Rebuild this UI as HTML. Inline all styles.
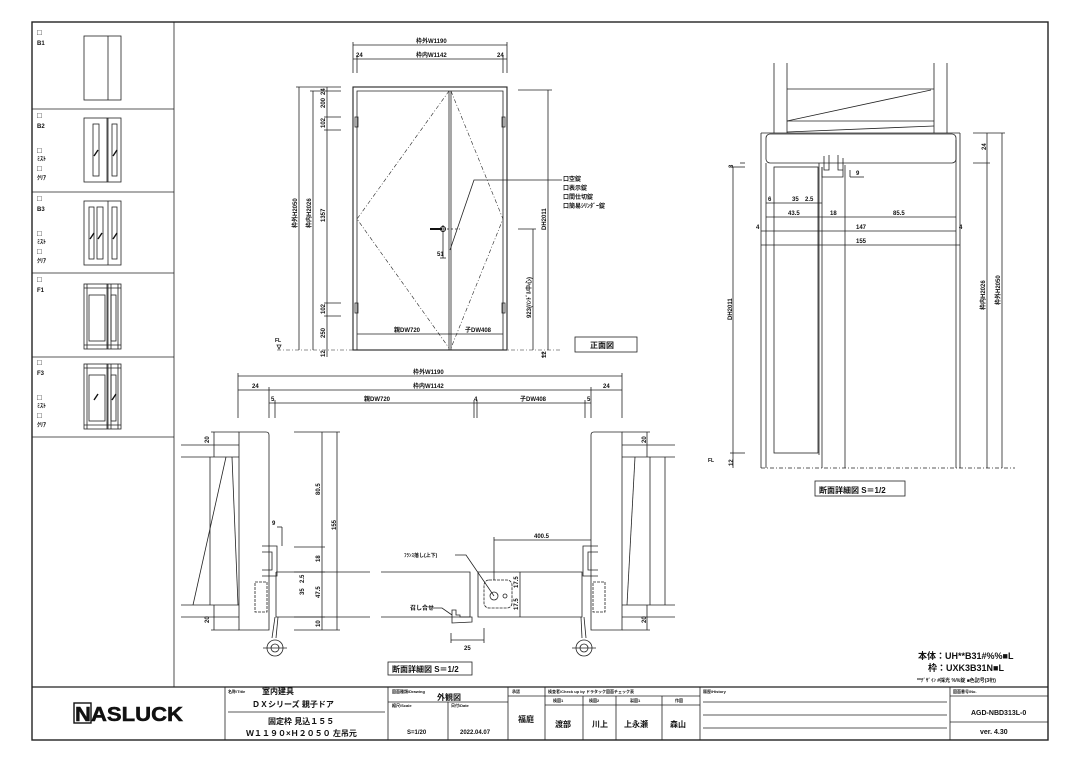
<!DOCTYPE html>
<html><head><meta charset="utf-8"><style>
html,body{margin:0;padding:0;background:#fff;}
svg{display:block;}
text{font-family:"Liberation Sans","Noto Sans CJK JP",sans-serif;fill:#111;}
.s{font-size:6px;font-weight:bold;}
.m{font-size:8px;font-weight:bold;}
.b{font-size:8px;font-weight:bold;}
</style></head><body>
<svg width="1080" height="764" viewBox="0 0 1080 764" xmlns="http://www.w3.org/2000/svg">
<g fill="none" stroke="#222" stroke-width="0.8">
<rect x="32" y="22" width="1016" height="718" stroke-width="1.4"/>
<line x1="174" y1="22" x2="174" y2="687"/>
<line x1="32" y1="109" x2="174" y2="109"/>
<line x1="32" y1="192" x2="174" y2="192"/>
<line x1="32" y1="273" x2="174" y2="273"/>
<line x1="32" y1="357" x2="174" y2="357"/>
<line x1="32" y1="437" x2="174" y2="437"/>
<rect x="84" y="36" width="37" height="64"/><line x1="108" y1="36" x2="108" y2="100"/>
<rect x="84" y="118" width="37" height="64"/><line x1="107" y1="118" x2="107" y2="182"/><line x1="108" y1="118" x2="108" y2="182"/>
<rect x="93" y="124" width="6" height="52"/><rect x="112" y="124" width="5" height="52"/>
<rect x="84" y="201" width="37" height="64"/><line x1="108" y1="201" x2="108" y2="265"/>
<rect x="89" y="207" width="5" height="52"/><rect x="97" y="207" width="6" height="52"/><rect x="112" y="207" width="5" height="52"/>
<rect x="84" y="284" width="37" height="65"/><line x1="107" y1="284" x2="107" y2="349"/><line x1="108" y1="284" x2="108" y2="349"/>
<line x1="84" y1="288" x2="121" y2="288"/><line x1="84" y1="345" x2="121" y2="345"/>
<line x1="87" y1="284" x2="87" y2="349"/><line x1="118" y1="284" x2="118" y2="349"/><line x1="111" y1="284" x2="111" y2="349"/>
<rect x="89" y="295" width="16" height="46"/><rect x="111" y="295" width="5" height="46"/>
<rect x="84" y="364" width="37" height="65"/><line x1="107" y1="364" x2="107" y2="429"/><line x1="108" y1="364" x2="108" y2="429"/>
<line x1="84" y1="368" x2="121" y2="368"/><line x1="84" y1="425" x2="121" y2="425"/>
<line x1="87" y1="364" x2="87" y2="429"/><line x1="118" y1="364" x2="118" y2="429"/><line x1="111" y1="364" x2="111" y2="429"/>
<rect x="89" y="375" width="16" height="46"/><rect x="111" y="375" width="5" height="46"/>
</g>
<g stroke="#111" stroke-width="1.4">
<line x1="94" y1="156" x2="98" y2="150"/><line x1="113" y1="156" x2="117" y2="150"/>
<line x1="90" y1="239" x2="94" y2="233"/><line x1="98" y1="239" x2="102" y2="233"/><line x1="113" y1="239" x2="117" y2="233"/>
<line x1="94" y1="400" x2="98" y2="394"/><line x1="112" y1="400" x2="116" y2="394"/>
</g>
<g class="s">
<text x="37" y="35" class="b">□</text><text x="37" y="45">B1</text>
<text x="37" y="118" class="b">□</text><text x="37" y="128">B2</text><text x="37" y="153" class="b">□</text><text x="37" y="161">ﾐｽﾄ</text><text x="37" y="171" class="b">□</text><text x="37" y="180">ｸﾘｱ</text>
<text x="37" y="201" class="b">□</text><text x="37" y="211">B3</text><text x="37" y="236" class="b">□</text><text x="37" y="244">ﾐｽﾄ</text><text x="37" y="254" class="b">□</text><text x="37" y="263">ｸﾘｱ</text>
<text x="37" y="282" class="b">□</text><text x="37" y="292">F1</text>
<text x="37" y="365" class="b">□</text><text x="37" y="375">F3</text><text x="37" y="400" class="b">□</text><text x="37" y="408">ﾐｽﾄ</text><text x="37" y="418" class="b">□</text><text x="37" y="427">ｸﾘｱ</text>
</g>

<g fill="none" stroke="#222" stroke-width="0.8">
<rect x="353" y="87" width="154" height="263" stroke-width="1.1"/>
<path d="M357 350 V91 H503 V350" />
<line x1="449" y1="91" x2="449" y2="350"/><line x1="451" y1="91" x2="451" y2="350"/>
<g stroke-dasharray="4,2,1,2" stroke-width="0.6">
<path d="M449 91 L357 219 L449 348"/><path d="M451 91 L503 219 L451 348"/>
<line x1="277" y1="350" x2="560" y2="350"/>
</g>
<rect x="355" y="117" width="3" height="10"/><rect x="355" y="303" width="3" height="10"/>
<rect x="502" y="117" width="3" height="10"/><rect x="502" y="303" width="3" height="10"/>
<line x1="353" y1="45" x2="507" y2="45"/><line x1="353" y1="59" x2="507" y2="59"/>
<line x1="353" y1="42" x2="353" y2="73"/><line x1="507" y1="42" x2="507" y2="73"/><line x1="357" y1="55" x2="357" y2="73"/><line x1="503" y1="55" x2="503" y2="73"/>
<line x1="299" y1="87" x2="299" y2="350"/><line x1="313" y1="91" x2="313" y2="350"/><line x1="327" y1="87" x2="327" y2="357"/>
<line x1="296" y1="87" x2="341" y2="87"/><line x1="310" y1="91" x2="341" y2="91"/>
<line x1="324" y1="117" x2="341" y2="117"/><line x1="324" y1="130" x2="341" y2="130"/>
<line x1="324" y1="303" x2="341" y2="303"/><line x1="324" y1="316" x2="341" y2="316"/>
<line x1="357" y1="334" x2="503" y2="334"/>
<line x1="518" y1="90" x2="552" y2="90"/><line x1="548" y1="90" x2="548" y2="350"/>
<line x1="518" y1="229" x2="536" y2="229"/><line x1="533" y1="229" x2="533" y2="350"/>
<line x1="543" y1="352" x2="543" y2="358"/>
<line x1="443" y1="229" x2="460" y2="229" stroke-dasharray="2,2"/>
<line x1="443" y1="225" x2="443" y2="258"/><line x1="440" y1="258" x2="446" y2="258"/>
<path d="M450 250 L474 180 H562"/>
<rect x="575" y="337" width="62" height="15"/>
<path d="M277 345 l2 4 l2 -4 z"/>
</g>
<path d="M430 229 H442" stroke="#111" stroke-width="2"/>
<circle cx="443" cy="229" r="2.5" fill="none" stroke="#111"/>
<g class="s">
<text x="416" y="43">枠外W1190</text><text x="356" y="57">24</text><text x="416" y="57">枠内W1142</text><text x="497" y="57">24</text>
<text x="394" y="332">親DW720</text><text x="465" y="332">子DW408</text>
<text x="437" y="256">51</text>
<text x="563" y="181">口空錠</text><text x="563" y="190">口表示錠</text><text x="563" y="199">口間仕切錠</text><text x="563" y="208">口簡易ｼﾘﾝﾀﾞｰ錠</text>
<g transform="rotate(-90)">
<text x="-228" y="297">枠外H2050</text><text x="-228" y="311">枠内H2026</text>
<text x="-95" y="325">24</text><text x="-108" y="325">200</text><text x="-128" y="325">102</text><text x="-222" y="325">1357</text><text x="-314" y="325">102</text><text x="-338" y="325">250</text><text x="-357" y="325">12</text>
<text x="-230" y="546">DH2011</text><text x="-318" y="531">923(ﾊﾝﾄﾞﾙ中心)</text><text x="-358" y="546">12</text>
</g>
<text x="275" y="342" style="font-size:5px">FL</text>
</g>
<text x="590" y="348" class="m">正面図</text>

<g fill="none" stroke="#222" stroke-width="0.8">
<line x1="774" y1="63" x2="774" y2="133"/><line x1="787" y1="63" x2="787" y2="133"/><line x1="934" y1="63" x2="934" y2="133"/><line x1="947" y1="63" x2="947" y2="133"/>
<line x1="787" y1="89" x2="934" y2="89"/><line x1="787" y1="121" x2="934" y2="121"/><line x1="787" y1="121" x2="931" y2="90"/><line x1="787" y1="132" x2="934" y2="126"/>
<line x1="761" y1="133" x2="960" y2="133"/>
<rect x="766" y="134" width="190" height="29" rx="4"/>
<line x1="761" y1="133" x2="761" y2="468"/><line x1="766" y1="163" x2="766" y2="468"/>
<line x1="956" y1="140" x2="956" y2="468"/><line x1="960" y1="133" x2="960" y2="468"/>
<line x1="822" y1="167" x2="822" y2="468"/><line x1="845" y1="165" x2="845" y2="468"/><line x1="819" y1="163" x2="819" y2="455"/>
<rect x="774" y="167" width="44" height="286"/>
<path d="M822 167 V177 H843 V158 M824 156 V170 H829 V155 M838 155 V170 H843"/>
<line x1="761" y1="468" x2="1015" y2="468" stroke-dasharray="4,2,1,2"/>
<line x1="766" y1="203" x2="822" y2="203"/><line x1="766" y1="217" x2="956" y2="217"/><line x1="761" y1="231" x2="956" y2="231"/><line x1="761" y1="245" x2="960" y2="245"/>
<line x1="733" y1="167" x2="733" y2="468"/><line x1="730" y1="167" x2="745" y2="167"/><line x1="730" y1="453" x2="745" y2="453"/>
<line x1="740" y1="163" x2="745" y2="163"/>
<line x1="987" y1="133" x2="987" y2="468"/><line x1="1002" y1="133" x2="1002" y2="468"/><line x1="973" y1="133" x2="1005" y2="133"/><line x1="973" y1="163" x2="990" y2="163"/>
<line x1="850" y1="177" x2="864" y2="177"/><line x1="850" y1="170" x2="850" y2="177"/>
<rect x="815" y="481" width="90" height="15"/>
</g>
<g class="s">
<text x="768" y="201">6</text><text x="792" y="201">35</text><text x="805" y="201">2.5</text>
<text x="788" y="215">43.5</text><text x="830" y="215">18</text><text x="893" y="215">85.5</text>
<text x="756" y="229">4</text><text x="856" y="229">147</text><text x="959" y="229">4</text>
<text x="856" y="243">155</text><text x="856" y="175">9</text>
<g transform="rotate(-90)">
<text x="-168" y="733">3</text><text x="-150" y="986">24</text><text x="-320" y="732">DH2011</text><text x="-310" y="985">枠内H2026</text><text x="-305" y="1000">枠外H2050</text><text x="-466" y="733">12</text>
</g>
<text x="708" y="462" style="font-size:5px">FL</text>
</g>
<text x="819" y="493" class="m">断面詳細図 S＝1/2</text>

<g fill="none" stroke="#222" stroke-width="0.8">
<line x1="238" y1="376" x2="622" y2="376"/><line x1="238" y1="390" x2="622" y2="390"/><line x1="269" y1="403" x2="591" y2="403"/>
<line x1="238" y1="373" x2="238" y2="418"/><line x1="622" y1="373" x2="622" y2="418"/><line x1="269" y1="387" x2="269" y2="418"/><line x1="591" y1="387" x2="591" y2="418"/>
<line x1="275" y1="400" x2="275" y2="418"/><line x1="585" y1="400" x2="585" y2="418"/><line x1="474" y1="400" x2="474" y2="418"/><line x1="477" y1="400" x2="477" y2="418"/>
<path d="M239 432 H266 q3 0 3 3 V630 H239 Z"/>
<path d="M622 432 H594 q-3 0 -3 3 V630 H622 Z"/>
<line x1="181" y1="445" x2="239" y2="445"/><line x1="181" y1="457" x2="239" y2="457"/><line x1="181" y1="605" x2="239" y2="605"/><line x1="181" y1="617" x2="239" y2="617"/>
<line x1="210" y1="457" x2="210" y2="605"/><line x1="193" y1="605" x2="226" y2="457"/><line x1="232" y1="457" x2="238" y2="605"/>
<line x1="622" y1="445" x2="675" y2="445"/><line x1="622" y1="457" x2="675" y2="457"/><line x1="622" y1="605" x2="675" y2="605"/><line x1="622" y1="617" x2="675" y2="617"/>
<line x1="650" y1="457" x2="650" y2="605"/><line x1="635" y1="457" x2="627" y2="605"/><line x1="665" y1="605" x2="665" y2="457"/>
<line x1="211" y1="432" x2="239" y2="432"/><line x1="211" y1="630" x2="239" y2="630"/><line x1="214" y1="432" x2="214" y2="457"/><line x1="214" y1="605" x2="214" y2="630"/>
<line x1="622" y1="432" x2="650" y2="432"/><line x1="622" y1="630" x2="650" y2="630"/><line x1="647" y1="432" x2="647" y2="457"/><line x1="647" y1="605" x2="647" y2="630"/>
<path d="M276 572 H370 M381 572 H470 V617 H381 M370 617 H276 V572"/>
<path d="M478 572 H582 V617 H478 Z"/>
<path d="M452 623 V610 h4 v5 h4 v2 h12 v5 z"/>
<path d="M262 546 h15 v30 h-15 M262 552 h10 v18 h-10 M598 546 h-15 v30 h15 M598 552 h-10 v18 h10"/>
<rect x="255" y="582" width="12" height="30" stroke-dasharray="3,1"/><rect x="593" y="582" width="12" height="30" stroke-dasharray="3,1"/>
<rect x="484" y="580" width="28" height="28" rx="5" stroke-dasharray="3,1"/>
<circle cx="494" cy="596" r="4"/><circle cx="505" cy="596" r="2"/>
<line x1="275" y1="617" x2="272" y2="638"/><line x1="278" y1="617" x2="276" y2="638"/><line x1="584" y1="617" x2="586" y2="638"/><line x1="581" y1="617" x2="582" y2="638"/>
<circle cx="275" cy="648" r="8"/><circle cx="275" cy="648" r="4"/><circle cx="584" cy="648" r="8"/><circle cx="584" cy="648" r="4"/>
<line x1="263" y1="648" x2="287" y2="648"/><line x1="572" y1="648" x2="596" y2="648"/>
<line x1="337" y1="432" x2="337" y2="630"/><line x1="322" y1="432" x2="322" y2="630"/>
<line x1="294" y1="432" x2="340" y2="432"/><line x1="294" y1="630" x2="340" y2="630"/><line x1="294" y1="547" x2="325" y2="547"/><line x1="294" y1="572" x2="325" y2="572"/><line x1="294" y1="617" x2="325" y2="617"/>
<line x1="277" y1="527" x2="282" y2="527"/><line x1="282" y1="527" x2="282" y2="546"/>
<line x1="494" y1="540" x2="591" y2="540"/><line x1="494" y1="537" x2="494" y2="580"/>
<line x1="520" y1="572" x2="520" y2="617"/>
<path d="M455 555 H466 L494 596"/><path d="M430 608 H442 L452 615"/>
<line x1="451" y1="640" x2="484" y2="640"/><line x1="451" y1="633" x2="451" y2="643"/><line x1="484" y1="628" x2="484" y2="643"/>
<rect x="388" y="662" width="84" height="13"/>
</g>
<g class="s">
<text x="413" y="374">枠外W1190</text><text x="252" y="388">24</text><text x="413" y="388">枠内W1142</text><text x="603" y="388">24</text>
<text x="271" y="401">5</text><text x="364" y="401">親DW720</text><text x="474" y="401">4</text><text x="520" y="401">子DW408</text><text x="587" y="401">5</text>
<text x="272" y="525">9</text><text x="534" y="538">400.5</text><text x="404" y="557" style="font-size:5px">ﾌﾗﾝｽ落し(上下)</text><text x="410" y="610">召し合せ</text><text x="464" y="650">25</text>
<g transform="rotate(-90)">
<text x="-443" y="209">20</text><text x="-623" y="209">20</text><text x="-443" y="646">20</text><text x="-623" y="646">20</text>
<text x="-495" y="320">80.5</text><text x="-530" y="336">155</text><text x="-562" y="320">18</text><text x="-583" y="304">2.5</text><text x="-595" y="304">35</text><text x="-598" y="320">47.5</text><text x="-627" y="320">10</text>
<text x="-588" y="518">17.5</text><text x="-610" y="518">17.5</text>
</g>
</g>
<text x="392" y="672" class="m">断面詳細図 S＝1/2</text>
<text x="918" y="659" style="font-size:9px;font-weight:bold">本体：UH**B31#%%■L</text>
<text x="928" y="671" style="font-size:9px;font-weight:bold">枠：UXK3B31N■L</text>
<text x="917" y="682" style="font-size:5px;font-weight:bold">**ﾃﾞｻﾞｲﾝ #採光 %%錠 ■色記号(3桁)</text>

<g fill="none" stroke="#222" stroke-width="0.8">
<line x1="32" y1="687" x2="1048" y2="687" stroke-width="1.2"/>
<line x1="225" y1="687" x2="225" y2="740"/><line x1="388" y1="687" x2="388" y2="740"/><line x1="508" y1="687" x2="508" y2="740"/><line x1="545" y1="687" x2="545" y2="740"/>
<line x1="700" y1="687" x2="700" y2="740"/><line x1="950" y1="687" x2="950" y2="740"/>
<line x1="228" y1="712" x2="385" y2="712"/>
<line x1="388" y1="702" x2="508" y2="702"/><line x1="448" y1="702" x2="448" y2="740"/>
<line x1="508" y1="696" x2="545" y2="696"/>
<line x1="545" y1="696" x2="700" y2="696"/><line x1="545" y1="705" x2="700" y2="705"/>
<line x1="583" y1="696" x2="583" y2="740"/><line x1="616" y1="696" x2="616" y2="740"/><line x1="662" y1="696" x2="662" y2="740"/>
<line x1="703" y1="702" x2="947" y2="702"/><line x1="703" y1="715" x2="947" y2="715"/><line x1="703" y1="728" x2="947" y2="728"/>
<line x1="950" y1="696" x2="1048" y2="696"/><line x1="950" y1="722" x2="1048" y2="722"/>
<rect x="74" y="703" width="17" height="20" stroke="#111" stroke-width="1.4"/>
</g>
<text x="75" y="721" style="font-size:20px;font-weight:900;font-family:'Liberation Sans',sans-serif" stroke="#111" stroke-width="0.5" textLength="108" lengthAdjust="spacingAndGlyphs">NASLUCK</text>
<g style="font-size:4px;font-weight:bold">
<text x="228" y="693">名称/Title</text><text x="392" y="693">図面種類/Drawing</text><text x="392" y="707">縮尺/Scale</text><text x="451" y="707">日付/Date</text>
<text x="512" y="693">承認</text><text x="548" y="693">検査者/Check up by ドラタック図面チェック表</text><text x="553" y="702">検図1</text><text x="589" y="702">検図2</text><text x="630" y="702">製図1</text><text x="675" y="702">作図</text>
<text x="703" y="693">履歴/History</text><text x="953" y="693">図面番号/No.</text>
</g>
<g style="font-size:8px;font-weight:bold">
<text x="262" y="694">室内建具</text>
<text x="252" y="707">ＤＸシリーズ 親子ドア</text>
<text x="268" y="724">固定枠 見込１５５</text>
<text x="246" y="736">Ｗ１１９０×Ｈ２０５０ 左吊元</text>
<text x="437" y="700">外観図</text>
<text x="407" y="734" style="font-size:6px">S=1/20</text><text x="460" y="734" style="font-size:6px">2022.04.07</text>
<text x="518" y="722">福庭</text><text x="555" y="727">渡部</text><text x="592" y="727">川上</text><text x="624" y="727">上永瀬</text><text x="670" y="727">森山</text>
<text x="971" y="715" style="font-size:7px">AGD-NBD313L-0</text><text x="980" y="734" style="font-size:7px">ver. 4.30</text>
</g>
</svg>
</body></html>
